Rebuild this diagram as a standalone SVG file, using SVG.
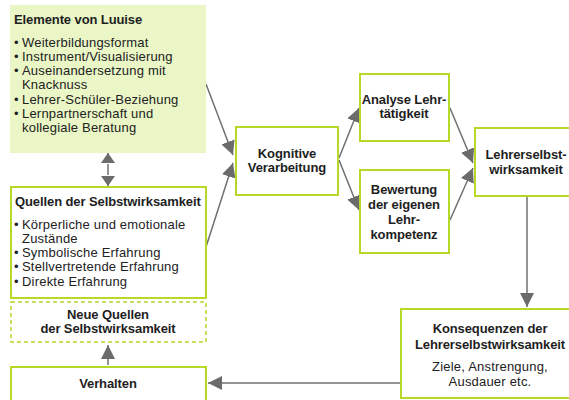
<svg xmlns="http://www.w3.org/2000/svg" width="569" height="400" viewBox="0 0 569 400">
<defs>
<marker id="ah" viewBox="0 0 14 14" refX="14" refY="7" markerWidth="14" markerHeight="14" markerUnits="userSpaceOnUse" orient="auto-start-reverse">
<path d="M0,0 L14,7 L0,14 Z" fill="#6b6b6b"/>
</marker>
<marker id="ahs" viewBox="0 0 10 14" refX="10" refY="7" markerWidth="10" markerHeight="14" markerUnits="userSpaceOnUse" orient="auto-start-reverse">
<path d="M0,0 L10,7 L0,14 Z" fill="#6b6b6b"/>
</marker>
<style>
.box{fill:#ffffff;stroke:#b6d827;stroke-width:2}
.fill{fill:#eaf6c6;stroke:none}
.dash{fill:#ffffff;stroke:#b6d827;stroke-width:1.5;stroke-dasharray:4 3}
.b{font-family:"Liberation Sans",Arial,sans-serif;font-size:13px;font-weight:bold;fill:#1e1e1e;letter-spacing:-0.1px}
.t{font-family:"Liberation Sans",Arial,sans-serif;font-size:13px;fill:#222;letter-spacing:0.2px}
.c{text-anchor:middle}
.con{stroke:#707070;stroke-width:1.5;fill:none}
</style>
</defs>

<g id="connectors">
<path class="con" d="M206,84 L233,155" marker-end="url(#ah)"/>
<path class="con" d="M206,247 L233,163" marker-end="url(#ah)"/>
<path class="con" d="M339,158 L359,108" marker-end="url(#ah)"/>
<path class="con" d="M339,160 L359,210" marker-end="url(#ah)"/>
<path class="con" d="M450,108 L473,163" marker-end="url(#ah)"/>
<path class="con" d="M450,220 L473,168" marker-end="url(#ah)"/>
<path class="con" d="M527,197 L527,307" marker-end="url(#ah)"/>
<path class="con" d="M400,383 L208,383" marker-end="url(#ah)"/>
<path class="con" d="M108,365 L108,345" marker-end="url(#ah)"/>
<path class="con" d="M108,164 L108,175"/>
<path class="con" d="M108,163 L108,153" marker-end="url(#ahs)"/>
<path class="con" d="M108,176 L108,186" marker-end="url(#ahs)"/>
</g>

<g id="elemente">
<rect class="fill" x="10" y="5" width="196" height="148"/>
<text class="b" x="14" y="24">Elemente von Luuise</text>
<text class="t" x="14" y="47">•</text><text class="t" x="22" y="47">Weiterbildungsformat</text>
<text class="t" x="14" y="61">•</text><text class="t" x="22" y="61">Instrument/Visualisierung</text>
<text class="t" x="14" y="75">•</text><text class="t" x="22" y="75">Auseinandersetzung mit</text>
<text class="t" x="22" y="89">Knacknuss</text>
<text class="t" x="14" y="104">•</text><text class="t" x="22" y="104">Lehrer-Schüler-Beziehung</text>
<text class="t" x="14" y="118">•</text><text class="t" x="22" y="118">Lernpartnerschaft und</text>
<text class="t" x="22" y="132">kollegiale Beratung</text>
</g>

<g id="quellen">
<rect class="box" x="11" y="187" width="195" height="111"/>
<text class="b" x="15" y="206">Quellen der Selbstwirksamkeit</text>
<text class="t" x="14" y="229">•</text><text class="t" x="22" y="229">Körperliche und emotionale</text>
<text class="t" x="22" y="243">Zustände</text>
<text class="t" x="14" y="257">•</text><text class="t" x="22" y="257">Symbolische Erfahrung</text>
<text class="t" x="14" y="271">•</text><text class="t" x="22" y="271">Stellvertretende Erfahrung</text>
<text class="t" x="14" y="286">•</text><text class="t" x="22" y="286">Direkte Erfahrung</text>
</g>

<g id="neue-quellen">
<rect class="dash" x="11" y="302" width="195" height="40"/>
<text class="b c" x="108" y="319">Neue Quellen</text>
<text class="b c" x="108" y="333">der Selbstwirksamkeit</text>
</g>

<g id="verhalten">
<rect class="box" x="11" y="367" width="195" height="50"/>
<text class="b c" x="108" y="388">Verhalten</text>
</g>

<g id="kognitive">
<rect class="box" x="236" y="127" width="102" height="68"/>
<text class="b c" x="287" y="158">Kognitive</text>
<text class="b c" x="287" y="172">Verarbeitung</text>
</g>

<g id="analyse">
<rect class="box" x="360" y="74" width="89" height="67"/>
<text class="b c" x="404" y="104">Analyse Lehr-</text>
<text class="b c" x="404" y="118">tätigkeit</text>
</g>

<g id="bewertung">
<rect class="box" x="360" y="170" width="89" height="83"/>
<text class="b c" x="404" y="194">Bewertung</text>
<text class="b c" x="404" y="209">der eigenen</text>
<text class="b c" x="404" y="224">Lehr-</text>
<text class="b c" x="404" y="239">kompetenz</text>
</g>

<g id="lehrerselbstwirksamkeit">
<rect class="box" x="475" y="128" width="105" height="68"/>
<text class="b c" x="526" y="159">Lehrerselbst-</text>
<text class="b c" x="526" y="174">wirksamkeit</text>
</g>

<g id="konsequenzen">
<rect class="box" x="401" y="309" width="180" height="89"/>
<text class="b c" x="490" y="333">Konsequenzen der</text>
<text class="b c" x="490" y="349">Lehrerselbstwirksamkeit</text>
<text class="t c" x="490" y="371">Ziele, Anstrengung,</text>
<text class="t c" x="490" y="386">Ausdauer etc.</text>
</g>
</svg>
